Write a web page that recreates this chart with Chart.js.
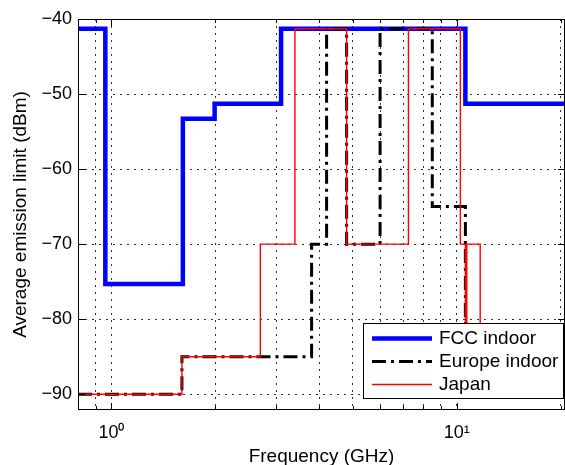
<!DOCTYPE html>
<html><head><meta charset="utf-8">
<script src="https://cdn.jsdelivr.net/npm/chart.js@4"></script>
<style>html,body{margin:0;padding:0;background:#fff}#wrap{width:565px;height:465px;position:relative}canvas{display:block}</style>
</head><body><div id="wrap"><canvas id="c" width="565" height="465" style="width:565px;height:465px"></canvas></div>
<script>
// Step masks: band edges (GHz) and level (dBm) inside each band
const fccEdges   = [0.8, 0.96, 1.61, 1.99, 3.1, 10.6, 20.6];
const fccLevels  = [-41.3, -75.3, -53.3, -51.3, -41.3, -51.3];
const euEdges    = [0.8, 1.6, 3.8, 4.2, 4.8, 6.0, 8.5, 10.6, 20.6];
const euLevels   = [-90, -85, -70, -41.3, -70, -41.3, -65, -85];
const jpEdges    = [0.8, 1.6, 2.7, 3.4, 4.8, 7.25, 10.25, 10.6, 10.7, 11.7, 20.6];
const jpLevels   = [-90, -85, -70, -41.3, -70, -41.3, -70, -85, -70, -85];
const seriesNames = ['FCC indoor', 'Europe indoor', 'Japan'];
const xGridTicks = [0.9, 1, 2, 3, 4, 5, 6, 7, 8, 9, 10, 20];
const xMajorTicks = [1, 10];
const xTickLabels = ['10\u2070', '10\u00B9'];
const yTicks = [-90, -80, -70, -60, -50, -40];

const FONT = '"Liberation Sans", Arial, Helvetica, sans-serif';

function toSteps(edges, levels) {
  const pts = levels.map((l, i) => ({x: edges[i], y: l}));
  pts.push({x: edges[edges.length - 1], y: levels[levels.length - 1]});
  return pts;
}

const boxPlugin = {
  id: 'boxPlugin',
  afterDatasetsDraw(chart) {
    const {ctx, chartArea: a, scales: {x, y}} = chart;
    ctx.save();
    ctx.strokeStyle = '#000';
    ctx.lineWidth = 1;
    ctx.setLineDash([]);
    ctx.beginPath();
    xGridTicks.forEach(v => {
      const px = Math.round(x.getPixelForValue(v)) + 0.5;
      const len = xMajorTicks.includes(v) ? 7 : 4;
      ctx.moveTo(px, a.bottom); ctx.lineTo(px, a.bottom - len);
      ctx.moveTo(px, a.top); ctx.lineTo(px, a.top + len);
    });
    yTicks.forEach(v => {
      const py = Math.round(y.getPixelForValue(v)) + 0.5;
      ctx.moveTo(a.left, py); ctx.lineTo(a.left + 7, py);
      ctx.moveTo(a.right, py); ctx.lineTo(a.right - 7, py);
    });
    ctx.stroke();
    ctx.strokeRect(a.left + 0.5, a.top + 0.5, a.right - a.left - 1, a.bottom - a.top - 1);
    ctx.restore();
  },
  afterDraw(chart) {
    const {ctx} = chart;
    ctx.save();
    const bx = 363, by = 323, bw = 201, bh = 76;
    ctx.fillStyle = '#fff';
    ctx.fillRect(bx, by, bw, bh);
    ctx.strokeStyle = '#000';
    ctx.lineWidth = 1;
    ctx.setLineDash([]);
    ctx.strokeRect(bx + 0.5, by + 0.5, bw - 1, bh - 1);
    const rows = [338.5, 361.5, 384.5];
    chart.data.datasets.forEach((ds, i) => {
      ctx.save();
      ctx.strokeStyle = ds.borderColor;
      ctx.lineWidth = ds.borderWidth;
      ctx.setLineDash(ds.borderDash || []);
      ctx.lineCap = 'butt';
      ctx.beginPath();
      ctx.moveTo(372, rows[i]); ctx.lineTo(432, rows[i]);
      ctx.stroke();
      ctx.restore();
      ctx.fillStyle = '#000';
      ctx.font = '19px ' + FONT;
      ctx.textBaseline = 'middle';
      ctx.textAlign = 'left';
      ctx.fillText(ds.label, 439, rows[i]);
    });
    ctx.restore();
  }
};

new Chart(document.getElementById('c'), {
  type: 'line',
  data: {
    datasets: [
      {label: seriesNames[0], data: toSteps(fccEdges, fccLevels), borderColor: '#0000ff', borderWidth: 4.5, order: 3},
      {label: seriesNames[1], data: toSteps(euEdges, euLevels), borderColor: '#000000', borderWidth: 3, borderDash: [14, 5, 3, 5], order: 2},
      {label: seriesNames[2], data: toSteps(jpEdges, jpLevels), borderColor: '#ff0000', borderWidth: 1.4, order: 1}
    ]
  },
  options: {
    responsive: false,
    animation: false,
    devicePixelRatio: 1,
    layout: {padding: {left: 0, top: 19, right: 0, bottom: 0}},
    elements: {point: {radius: 0}, line: {stepped: 'before', tension: 0, fill: false}},
    plugins: {legend: {display: false}, tooltip: {enabled: false}},
    scales: {
      x: {
        type: 'logarithmic', min: 0.8, max: 20.6,
        afterBuildTicks(s) { s.ticks = xGridTicks.map(v => ({value: v})); },
        afterFit(s) { s.height = 55; s.paddingLeft = 0; s.paddingRight = 0; },
        grid: {color: 'rgba(0,0,0,0.8)', lineWidth: 1, drawTicks: false},
        border: {display: false, dash: [2, 5]},
        ticks: {
          autoSkip: false, maxRotation: 0, minRotation: 0, padding: 12, color: '#000',
          font: {family: FONT, size: 18},
          callback(v) { const k = xMajorTicks.indexOf(v); return k >= 0 ? xTickLabels[k] : ''; }
        },
        title: {display: true, text: 'Frequency (GHz)', color: '#000', font: {family: FONT, size: 19}, padding: {top: 0, bottom: -3.5}}
      },
      y: {
        type: 'linear', min: -92.1, max: -40,
        afterBuildTicks(s) { s.ticks = yTicks.map(v => ({value: v})); },
        afterFit(s) { s.width = 78; s.paddingTop = 0; s.paddingBottom = 0; },
        grid: {color: 'rgba(0,0,0,0.8)', lineWidth: 1, drawTicks: false},
        border: {display: false, dash: [2, 5]},
        ticks: {
          padding: 6, color: '#000', font: {family: FONT, size: 18},
          callback(v) { return v < 0 ? '\u2212' + Math.abs(v) : String(v); }
        },
        title: {display: true, text: 'Average emission limit (dBm)', color: '#000', font: {family: FONT, size: 19}, padding: {top: 9, bottom: 0}}
      }
    }
  },
  plugins: [boxPlugin]
});
</script></body></html>
